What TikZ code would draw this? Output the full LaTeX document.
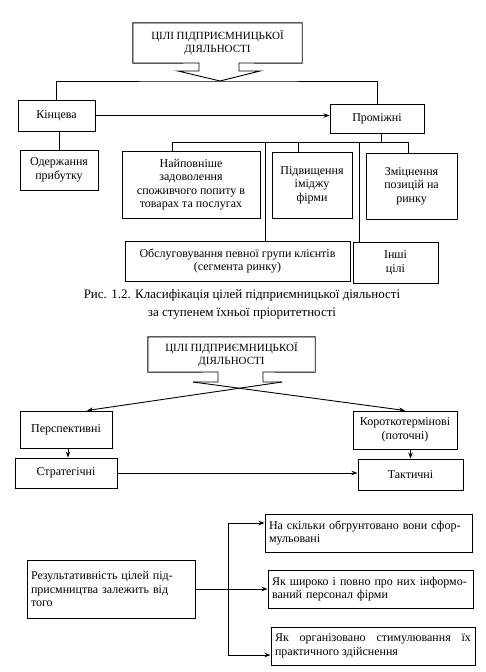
\documentclass[tikz,border=0pt]{standalone}
\usepackage{fontspec}
\setmainfont{Liberation Serif}
\usetikzlibrary{arrows.meta}
\begin{document}
\begin{tikzpicture}[x=1pt,y=-1pt,
  every node/.style={font=\fontsize{12}{13.5}\selectfont},
  box/.style={draw, line width=1pt, align=center, inner sep=2pt},
  lbox/.style={draw, line width=1pt, align=left, inner sep=4pt},
  title/.style={align=center, font=\fontsize{11}{13}\selectfont},
  ln/.style={line width=0.9pt},
  arr/.style={line width=0.9pt, -{Stealth[length=6pt,width=4.5pt]}}]
\useasboundingbox (0,0) rectangle (485,672);

% ---------- first diagram ----------
\node[title, minimum width=169pt, minimum height=40pt] (t1) at (217.5,43) {ЦІЛІ ПІДПРИЄМНИЦЬКОЇ\\ДІЯЛЬНОСТІ};
\coordinate (tip) at (220,81);
\draw[ln] (t1.south east) -- (239,63) -- (239,71) -- (260,71) -- (tip) -- (178,71) -- (199,71) -- (199,63) -- (t1.south west) -- (t1.north west) -- (t1.north east) -- cycle;

\node[box, minimum width=77pt, minimum height=31pt] (kin) at (56.5,115.5) {Кінцева};
\node[box, minimum width=94pt, minimum height=29pt] (prom) at (377,118.5) {Проміжні};
\node[box, minimum width=78pt, minimum height=40pt] (od) at (59,170) {Одержання\\прибутку};
\node[box, minimum width=138pt, minimum height=67pt] (naj) at (191,184.5) {Найповніше\\задоволення\\споживчого попиту в\\товарах та послугах};
\node[box, minimum width=80pt, minimum height=66pt] (pid) at (312,185) {Підвищення\\іміджу\\фірми};
\node[box, minimum width=91pt, minimum height=66pt] (zm) at (411.5,186) {Зміцнення\\позицій на\\ринку};
\node[box, minimum width=225pt, minimum height=40pt] (obs) at (237.5,261) {Обслуговування певної групи клієнтів\\(сегмента ринку)};
\node[box, minimum width=85pt, minimum height=41pt] (inshi) at (395.5,262.5) {Інші\\цілі};

\draw[ln] (kin.north) |- (tip) -| (prom.north);
\draw[arr] (kin.east) -- (kin.east -| prom.west);
\draw[ln] (od.north) -- (od.north |- kin.south);

\coordinate (bA) at (172,142);
\coordinate (bB) at (265,142);
\coordinate (bC) at (298,142);
\coordinate (bD) at (359,142);
\coordinate (bE) at (381,142);
\coordinate (bF) at (408,142);
\draw[ln] (bA) -- (bF);
\draw[ln] (bE) -- (bE |- prom.south);
\draw[ln] (bA) -- (bA |- naj.north);
\draw[ln] (bB) -- (bB |- obs.north);
\draw[ln] (bC) -- (bC |- pid.north);
\draw[ln] (bD) -- (bD |- inshi.north);
\draw[ln] (bF) -- (bF |- zm.north);

\node[align=center, font=\fontsize{13}{18}\selectfont] (cap) at (242,304) {Рис. 1.2. Класифікація цілей підприємницької діяльності\\за ступенем їхньої пріоритетності};

% ---------- second diagram ----------
\node[title, minimum width=167pt, minimum height=35pt] (t2) at (231.5,354.5) {ЦІЛІ ПІДПРИЄМНИЦЬКОЇ\\ДІЯЛЬНОСТІ};
\coordinate (sL) at (193,382);
\coordinate (sR) at (282,382);
\draw[ln] (sR) -- (263,382) -- (263,372) -- (t2.south east) -- (t2.north east) -- (t2.north west) -- (t2.south west) -- (218,372) -- (218,382) -- (sL);

\node[box, minimum width=92pt, minimum height=37pt] (per) at (66,429.5) {Перспективні};
\node[box, minimum width=104pt, minimum height=38pt] (kor) at (405,430) {Короткотермінові\\(поточні)};
\node[box, minimum width=102pt, minimum height=30pt] (str) at (66,473) {Стратегічні};
\node[box, minimum width=105pt, minimum height=31pt] (tak) at (410.5,474.5) {Тактичні};

\draw[arr] (sL) -- (kor.north);
\draw[arr] (sR) -- ([xshift=21pt]per.north);
\draw[arr] ([xshift=2pt]per.south) -- ([xshift=2pt]str.north);
\draw[arr] (tak.north |- kor.south) -- (tak.north);
\draw[arr] (str.east) -- (str.east -| tak.west);

% ---------- third diagram ----------
\node[lbox, text width=160pt, minimum height=58pt] (res) at (111,589) {Результативність цілей під-\\присмництва залежить від\\того};
\node[lbox, text width=199pt, minimum height=38pt] (q1) at (368.5,533) {На скільки обгрунтовано вони сфор-\\мульовані};
\node[lbox, text width=197pt, minimum height=38pt] (q2) at (370.5,589) {Як широко і повно про них інформо-\\ваний персонал фірми};
\node[draw, line width=1pt, inner sep=4pt, text width=196pt, align=justify, minimum height=38pt] (q3) at (373,646) {Як організовано стимулювання їх практичного здійснення};

\coordinate (vt) at (228,523);
\coordinate (vb) at (228,655);
\draw[ln] (vt) -- (vb);
\draw[arr] (vt) -- (vt -| q1.west);
\draw[arr] (res.east) -- (res.east -| q2.west);
\draw[arr] (vb) -- (vb -| q3.west);
\end{tikzpicture}
\end{document}
